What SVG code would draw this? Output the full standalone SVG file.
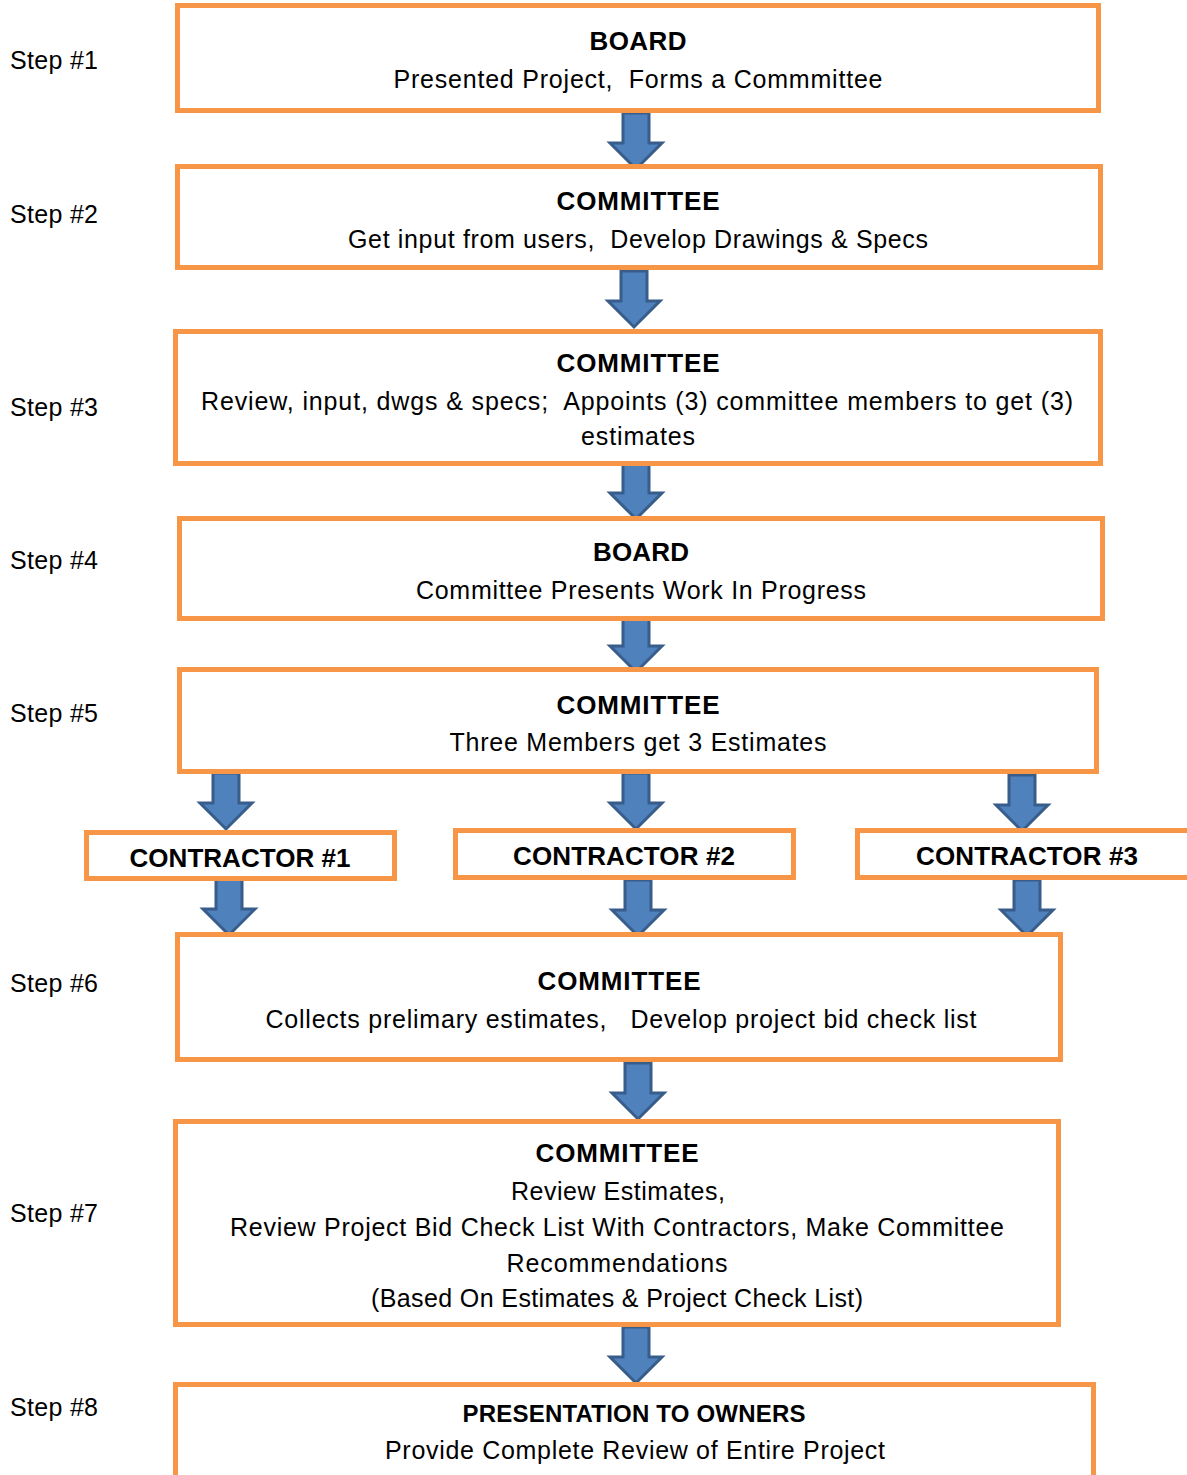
<svg xmlns="http://www.w3.org/2000/svg" width="1187" height="1475" viewBox="0 0 1187 1475">
<style>
text{white-space:pre}
.box{fill:#fff;stroke:#F79646;stroke-width:5}
.t{font-family:"Liberation Sans",Arial,sans-serif;font-size:25px;fill:#000;text-anchor:middle}
.b{font-family:"Liberation Sans",Arial,sans-serif;font-size:26px;font-weight:bold;fill:#000;text-anchor:middle}
.s{font-family:"Liberation Sans",Arial,sans-serif;font-size:25px;fill:#000}
.arr{fill:#4F81BD;stroke:#385D8A;stroke-width:3;stroke-linejoin:miter}
</style>
<defs>
<path id="a" d="M-13,0 H13 V30 H26 L0,56 L-26,30 H-13 Z"/>
</defs>
<g id="steps">
<text class="s" x="10" y="69" textLength="88">Step #1</text>
<text class="s" x="10" y="223" textLength="88">Step #2</text>
<text class="s" x="10" y="416" textLength="88">Step #3</text>
<text class="s" x="10" y="569" textLength="88">Step #4</text>
<text class="s" x="10" y="722" textLength="88">Step #5</text>
<text class="s" x="10" y="992" textLength="88">Step #6</text>
<text class="s" x="10" y="1222" textLength="88">Step #7</text>
<text class="s" x="10" y="1416" textLength="88">Step #8</text>
</g>
<g id="connectors">
<use href="#a" class="arr" x="636" y="113"/>
<use href="#a" class="arr" x="634" y="271"/>
<use href="#a" class="arr" x="636" y="463"/>
<use href="#a" class="arr" x="636" y="616"/>
<use href="#a" class="arr" x="226" y="773"/>
<use href="#a" class="arr" x="636" y="773"/>
<use href="#a" class="arr" x="1022" y="775"/>
<use href="#a" class="arr" x="229" y="879"/>
<use href="#a" class="arr" x="638" y="880"/>
<use href="#a" class="arr" x="1027" y="880"/>
<use href="#a" class="arr" x="638" y="1063"/>
<use href="#a" class="arr" x="636" y="1327"/>
</g>
<g id="n1">
<rect class="box" x="177.5" y="5.5" width="921" height="105"/>
<text class="b" x="638" y="50" textLength="97">BOARD</text>
<text class="t" x="638" y="88" textLength="489">Presented Project,  Forms a Commmittee</text>
</g>
<g id="n2">
<rect class="box" x="177.5" y="166.5" width="923" height="101"/>
<text class="b" x="638" y="210" textLength="163">COMMITTEE</text>
<text class="t" x="638" y="248" textLength="580">Get input from users,  Develop Drawings &amp; Specs</text>
</g>
<g id="n3">
<rect class="box" x="175.5" y="331.5" width="925" height="132"/>
<text class="b" x="638" y="372" textLength="163">COMMITTEE</text>
<text class="t" x="637" y="410" textLength="872">Review, input, dwgs &amp; specs;  Appoints (3) committee members to get (3)</text>
<text class="t" x="638" y="445" textLength="114">estimates</text>
</g>
<g id="n4">
<rect class="box" x="179.5" y="518.5" width="923" height="100"/>
<text class="b" x="641" y="561" textLength="96">BOARD</text>
<text class="t" x="641" y="599" textLength="450">Committee Presents Work In Progress</text>
</g>
<g id="n5">
<rect class="box" x="179.5" y="669.5" width="917" height="102"/>
<text class="b" x="638" y="714" textLength="163">COMMITTEE</text>
<text class="t" x="638" y="751" textLength="377">Three Members get 3 Estimates</text>
</g>
<g id="c1">
<rect class="box" x="86.5" y="832.5" width="308" height="46"/>
<text class="b" x="240" y="867" textLength="221">CONTRACTOR #1</text>
</g>
<g id="c2">
<rect class="box" x="455.5" y="830.5" width="338" height="47"/>
<text class="b" x="624" y="865" textLength="222">CONTRACTOR #2</text>
</g>
<g id="c3">
<rect class="box" x="857.5" y="830.5" width="340" height="47"/>
<text class="b" x="1027" y="865" textLength="222">CONTRACTOR #3</text>
</g>
<g id="n6">
<rect class="box" x="177.5" y="934.5" width="883" height="125"/>
<text class="b" x="619" y="990" textLength="163">COMMITTEE</text>
<text class="t" x="621" y="1028" textLength="711">Collects prelimary estimates,   Develop project bid check list</text>
</g>
<g id="n7">
<rect class="box" x="175.5" y="1121.5" width="883" height="203"/>
<text class="b" x="617" y="1162" textLength="163">COMMITTEE</text>
<text class="t" x="618" y="1200" textLength="214">Review Estimates,</text>
<text class="t" x="617" y="1236" textLength="774">Review Project Bid Check List With Contractors, Make Committee</text>
<text class="t" x="617" y="1272" textLength="221">Recommendations</text>
<text class="t" x="617" y="1307" textLength="492">(Based On Estimates &amp; Project Check List)</text>
</g>
<g id="n8">
<rect class="box" x="175.5" y="1384.5" width="918" height="100"/>
<text class="b" x="634" y="1422" style="font-size:24px" textLength="343">PRESENTATION TO OWNERS</text>
<text class="t" x="635" y="1459" textLength="500">Provide Complete Review of Entire Project</text>
</g>
</svg>
